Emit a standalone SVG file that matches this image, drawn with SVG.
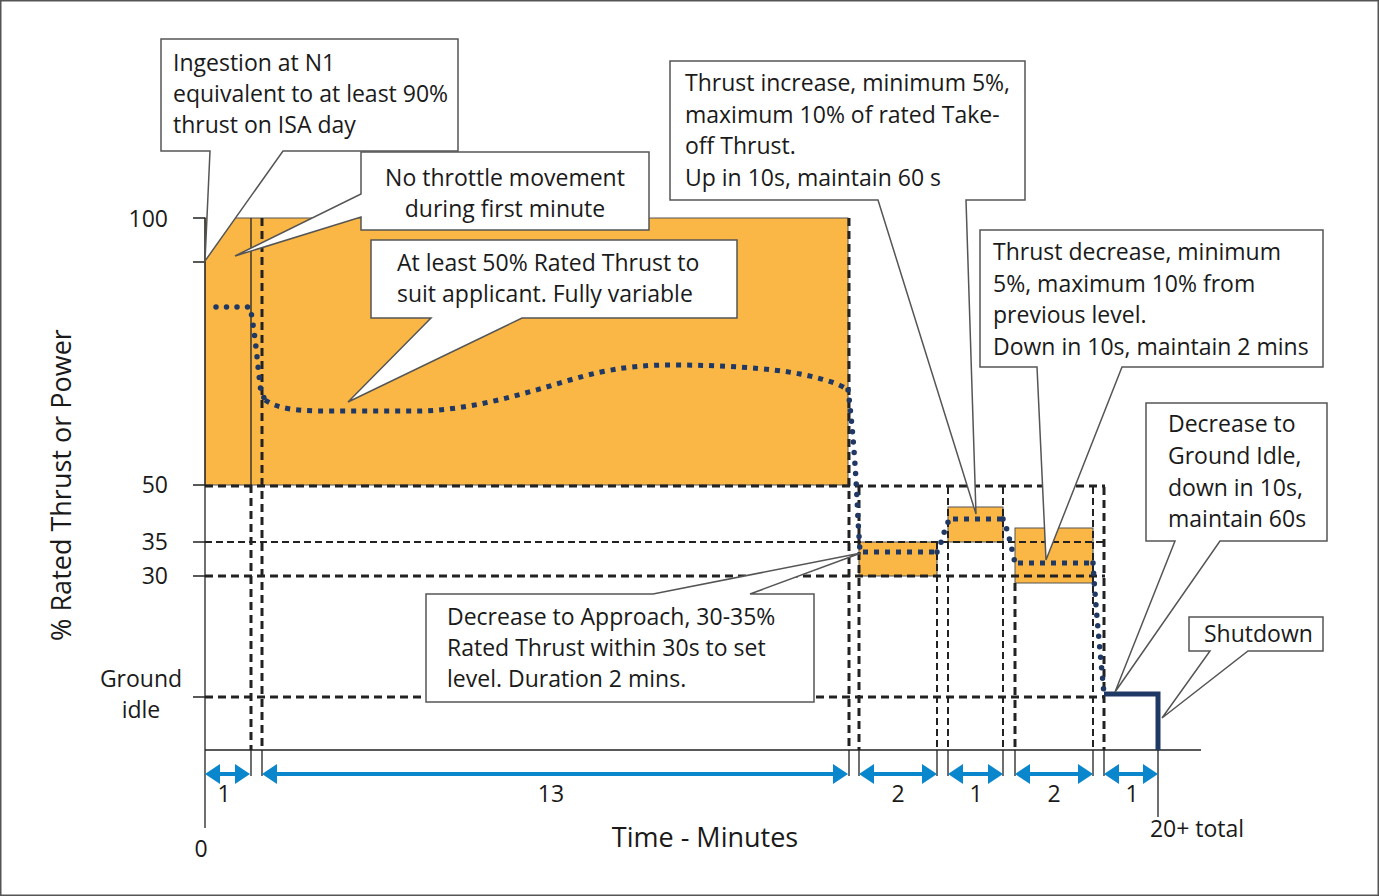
<svg xmlns="http://www.w3.org/2000/svg" width="1379" height="896" viewBox="0 0 1379 896">
<style>
text{font-family:"Open Sans","Liberation Sans",sans-serif;fill:#1a1a1a}
.t{font-size:23px}
.ax{font-size:27px}
.orange{fill:#FAB745;stroke:#555;stroke-width:1}
.dk{stroke:#222;stroke-width:3;stroke-dasharray:8 5;fill:none}
.dn{stroke:#222;stroke-width:2;stroke-dasharray:7 4;fill:none}
.sl{stroke:#222;stroke-width:1.3;fill:none}
.dots{stroke:#203864;stroke-width:5.5;stroke-linecap:round;stroke-dasharray:0 10.5;fill:none}
.sq{stroke:#203864;stroke-width:5;stroke-dasharray:5 6;fill:none}
.co{fill:#fff;stroke:#555;stroke-width:1.5;stroke-linejoin:miter}
.arr{stroke:#0A86CD;stroke-width:4;fill:none;marker-start:url(#ah);marker-end:url(#ah)}
</style>
<defs>
<marker id="ah" markerUnits="userSpaceOnUse" viewBox="0 0 16 20" markerWidth="16" markerHeight="20" refX="12" refY="10" orient="auto-start-reverse">
<path d="M0,0 L15,10 L0,20 z" fill="#0A86CD"/>
</marker>
</defs>
<rect x="0.75" y="0.75" width="1377.5" height="894.5" fill="#fff" stroke="#555" stroke-width="1.5"/>

<g id="bands">
<rect class="orange" x="205" y="218" width="643" height="267"/>
<rect class="orange" x="859" y="542" width="78" height="34"/>
<rect class="orange" x="948" y="507" width="55" height="35"/>
<rect class="orange" x="1015" y="528" width="78" height="55"/>
</g>

<g id="grid">
<line class="dk" x1="205" y1="486" x2="1105" y2="486"/>
<line class="dn" x1="205" y1="542" x2="1105" y2="542"/>
<line class="dk" x1="205" y1="576" x2="1105" y2="576"/>
<line class="dk" x1="205" y1="697" x2="1105" y2="697"/>
<line class="sl" x1="251" y1="218" x2="251" y2="485"/>
<line class="dk" x1="251" y1="485" x2="251" y2="750"/>
<line class="dk" x1="262" y1="218" x2="262" y2="750"/>
<line class="dk" x1="849" y1="218" x2="849" y2="750"/>
<line class="dk" x1="859" y1="487" x2="859" y2="750"/>
<line class="dn" x1="937" y1="542" x2="937" y2="750"/>
<line class="dn" x1="948" y1="487" x2="948" y2="750"/>
<line class="dn" x1="1003" y1="487" x2="1003" y2="750"/>
<line class="dk" x1="1015" y1="583" x2="1015" y2="750"/>
<line class="dn" x1="1093" y1="487" x2="1093" y2="750"/>
<line class="dk" x1="1104" y1="487" x2="1104" y2="750"/>
</g>

<g id="axes">
<line class="sl" x1="205" y1="218" x2="205" y2="828"/>
<line class="sl" x1="205" y1="750" x2="1201" y2="750"/>
<path class="sl" d="M193,218H205M193,262H205M193,485H205M193,542H205M193,576H205M193,697H205"/>
<path class="sl" d="M251,750V776M262,750V776M849,750V776M859,750V776M937,750V776M948,750V776M1003,750V776M1015,750V776M1093,750V776M1104,750V776M1158,750V817"/>
<text class="t" x="168" y="227" text-anchor="end">100</text>
<text class="t" x="168" y="493" text-anchor="end">50</text>
<text class="t" x="168" y="550" text-anchor="end">35</text>
<text class="t" x="168" y="584" text-anchor="end">30</text>
<text class="t" x="141" y="687" text-anchor="middle">Ground</text>
<text class="t" x="141" y="718" text-anchor="middle">idle</text>
<text class="t" x="201" y="857" text-anchor="middle">0</text>
<text class="t" x="1197" y="837" text-anchor="middle">20+ total</text>
<text class="ax" x="705" y="847" text-anchor="middle">Time - Minutes</text>
<text class="ax" transform="translate(71,485) rotate(-90)" text-anchor="middle">% Rated Thrust or Power</text>
</g>

<g id="thrust-trace">
<path class="dots" d="M216,307 L250,307 C255,330 258,370 261,392 L265,400"/>
<path class="sq" d="M265,400 C280,410 300,411 330,411 L420,411 C470,410 520,395 570,380 C610,368 640,365 670,365 C720,365 770,368 800,374 C825,379 840,384 848,390"/>
<path class="dots" d="M848,390 C852,420 856,470 858,520 L860,552"/>
<path class="sq" d="M863,552 L937,552"/>
<path class="dots" d="M937,552 C943,540 945,525 950,519"/>
<path class="sq" d="M953,519 L1003,519"/>
<path class="dots" d="M1003,519 C1008,530 1012,550 1015,563"/>
<path class="sq" d="M1018,563 L1093,563"/>
<path class="dots" d="M1093,563 C1095,600 1100,650 1104,694"/>
<path d="M1104,694 H1158 V750" fill="none" stroke="#203864" stroke-width="5"/>
</g>

<g id="durations">
<line class="arr" x1="208" y1="774" x2="247" y2="774"/>
<line class="arr" x1="265" y1="774" x2="845" y2="774"/>
<line class="arr" x1="862" y1="774" x2="934" y2="774"/>
<line class="arr" x1="951" y1="774" x2="1000" y2="774"/>
<line class="arr" x1="1018" y1="774" x2="1090" y2="774"/>
<line class="arr" x1="1107" y1="774" x2="1155" y2="774"/>
<text class="t" x="224" y="802" text-anchor="middle">1</text>
<text class="t" x="551" y="802" text-anchor="middle">13</text>
<text class="t" x="898" y="802" text-anchor="middle">2</text>
<text class="t" x="976" y="802" text-anchor="middle">1</text>
<text class="t" x="1054" y="802" text-anchor="middle">2</text>
<text class="t" x="1132" y="802" text-anchor="middle">1</text>
</g>

<g id="callout-ingestion">
<polygon class="co" points="161,39 458,39 458,151 283,151 205,261 210,151 161,151"/>
<text class="t" x="173" y="71">Ingestion at N1</text>
<text class="t" x="173" y="102">equivalent to at least 90%</text>
<text class="t" x="173" y="133">thrust on ISA day</text>
</g>

<g id="callout-throttle">
<polygon class="co" points="361,152 649,152 649,230 361,230 361,217 235,256 361,194"/>
<text class="t" x="505" y="186" text-anchor="middle">No throttle movement</text>
<text class="t" x="505" y="217" text-anchor="middle">during first minute</text>
</g>

<g id="callout-variable">
<polygon class="co" points="371,240 737,240 737,318 522,318 348,402 431,318 371,318"/>
<text class="t" x="397" y="271">At least 50% Rated Thrust to</text>
<text class="t" x="397" y="302">suit applicant. Fully variable</text>
</g>

<g id="callout-increase">
<polygon class="co" points="670,61 1025,61 1025,200 966,200 976,514 878,200 670,200"/>
<text class="t" x="685" y="91">Thrust increase, minimum 5%,</text>
<text class="t" x="685" y="123">maximum 10% of rated Take-</text>
<text class="t" x="685" y="154">off Thrust.</text>
<text class="t" x="685" y="186">Up in 10s, maintain 60 s</text>
</g>

<g id="callout-decrease">
<polygon class="co" points="980,230 1323,230 1323,367 1122,367 1046,560 1037,367 980,367"/>
<text class="t" x="993" y="260">Thrust decrease, minimum</text>
<text class="t" x="993" y="292">5%, maximum 10% from</text>
<text class="t" x="993" y="323">previous level.</text>
<text class="t" x="993" y="355">Down in 10s, maintain 2 mins</text>
</g>

<g id="callout-idle">
<polygon class="co" points="1146,403 1327,403 1327,541 1220,541 1115,692 1175,541 1146,541"/>
<text class="t" x="1168" y="432">Decrease to</text>
<text class="t" x="1168" y="464">Ground Idle,</text>
<text class="t" x="1168" y="496">down in 10s,</text>
<text class="t" x="1168" y="527">maintain 60s</text>
</g>

<g id="callout-shutdown">
<polygon class="co" points="1189,617 1323,617 1323,651 1248,651 1162,718 1210,651 1189,651"/>
<text class="t" x="1204" y="642">Shutdown</text>
</g>

<g id="callout-approach">
<polygon class="co" points="426,594 653,594 861,553 750,594 814,594 814,702 426,702"/>
<text class="t" x="447" y="625">Decrease to Approach, 30-35%</text>
<text class="t" x="447" y="656">Rated Thrust within 30s to set</text>
<text class="t" x="447" y="687">level. Duration 2 mins.</text>
</g>
</svg>
